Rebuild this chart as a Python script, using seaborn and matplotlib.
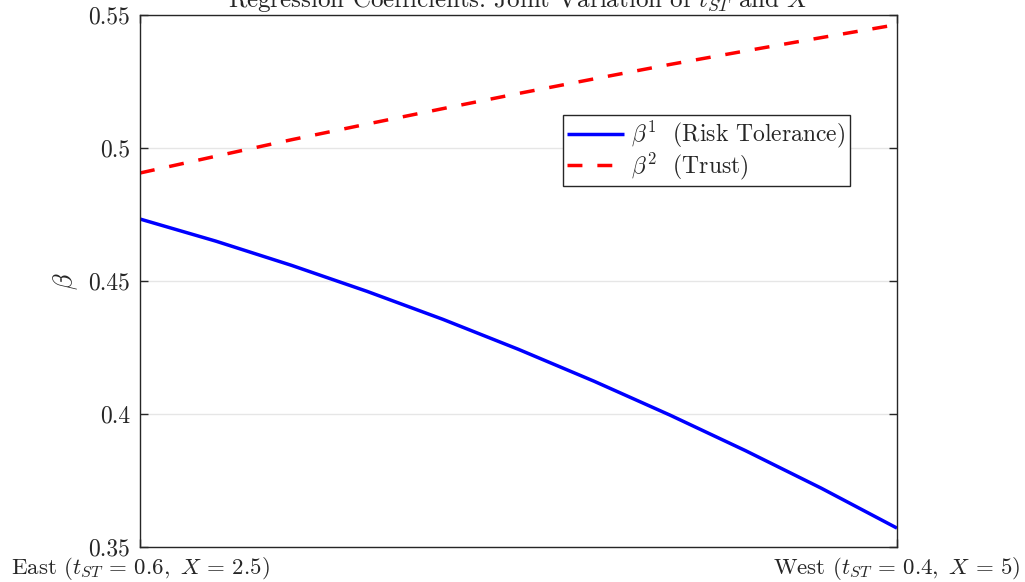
import numpy as np
import pandas as pd
import matplotlib
matplotlib.use("Agg")
import matplotlib.pyplot as plt
import seaborn as sns

# Position along the East -> West path (0 = East, 1 = West)
path_pos = [0.0, 0.1, 0.2, 0.3, 0.4, 0.5, 0.6, 0.7, 0.8, 0.9, 1.0]

# Regression coefficients along the path
beta1_risk = [0.4733, 0.4650, 0.4559, 0.4461, 0.4356, 0.4243,
              0.4123, 0.3996, 0.3862, 0.3721, 0.3571]
beta2_trust = [0.4906, 0.4969, 0.5031, 0.5090, 0.5148, 0.5205,
               0.5260, 0.5314, 0.5365, 0.5415, 0.5464]

series_labels = [r"$\beta^1$  (Risk Tolerance)", r"$\beta^2$  (Trust)"]
x_tick_pos = [0.0, 1.0]
x_tick_labels = [r"East $(t_{ST}\,=\,0.6,\ X\,=\,2.5)$",
                 r"West $(t_{ST}\,=\,0.4,\ X\,=\,5)$"]
y_ticks = [0.35, 0.40, 0.45, 0.50, 0.55]
y_tick_labels = ["0.35", "0.4", "0.45", "0.5", "0.55"]
title_text = r"Regression Coefficients: Joint Variation of $t_{ST}$ and $X$"

df = pd.DataFrame({
    "pos": path_pos * 2,
    "beta": beta1_risk + beta2_trust,
    "series": [series_labels[0]] * len(path_pos) + [series_labels[1]] * len(path_pos),
})

sns.set_theme(style="white")
plt.rcParams["font.family"] = ["cmr10", "DejaVu Serif"]
plt.rcParams["mathtext.fontset"] = "cm"
plt.rcParams["axes.formatter.use_mathtext"] = True
plt.rcParams["axes.unicode_minus"] = False

fig = plt.figure(figsize=(10.25, 5.82), dpi=100)
ax = fig.add_axes([140 / 1025, 35 / 582, 757 / 1025, 532 / 582])

sns.lineplot(data=df, x="pos", y="beta", hue="series", style="series",
             palette=["#0000ff", "#ff0000"],
             dashes=[(1, 0), (4.3, 4.3)], linewidth=2.5, ax=ax)

ax.set_xlim(0, 1)
ax.set_ylim(0.35, 0.55)
ax.set_xticks(x_tick_pos)
ax.set_xticklabels(x_tick_labels, fontsize=16.5)
ax.set_yticks(y_ticks)
ax.set_yticklabels(y_tick_labels, fontsize=17)

ax.yaxis.grid(True, color="#e6e6e6", linewidth=1.0)
ax.xaxis.grid(False)
ax.set_axisbelow(True)

for side in ["left", "right", "top", "bottom"]:
    ax.spines[side].set_visible(True)
    ax.spines[side].set_color("#262626")
    ax.spines[side].set_linewidth(1.0)

ax.tick_params(axis="y", which="both", direction="in", length=6, width=1,
               color="#262626", left=True, right=True, pad=7, labelcolor="#262626")
ax.tick_params(axis="x", which="both", direction="in", length=6, width=1,
               color="#262626", bottom=True, top=True, pad=5.5, labelcolor="#262626")

ax.set_xlabel("")
ax.set_ylabel(r"$\beta$", fontsize=19, color="#262626", labelpad=6)
ax.set_title(title_text, fontsize=18, color="#262626", pad=6)

leg = ax.legend(loc="upper left", bbox_to_anchor=(0.559, 0.812),
                borderaxespad=0, fontsize=17, frameon=True, fancybox=False,
                framealpha=1, edgecolor="#262626", handlelength=2.4,
                handletextpad=0.3, labelspacing=0.02, borderpad=0.18)
leg.get_frame().set_linewidth(1.0)
for t in leg.get_texts():
    t.set_color("#262626")

fig.savefig("out.png", dpi=100)
